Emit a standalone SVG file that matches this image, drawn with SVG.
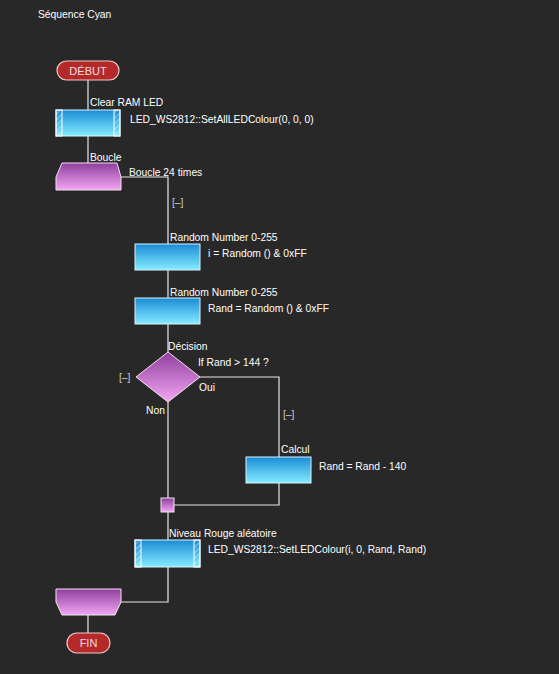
<svg xmlns="http://www.w3.org/2000/svg" width="559" height="674" viewBox="0 0 559 674">
<defs>
<linearGradient id="gBlue" x1="0" y1="0" x2="0" y2="1">
<stop offset="0" stop-color="#1a8cd6"/>
<stop offset="1" stop-color="#86ecff"/>
</linearGradient>
<linearGradient id="gPurple" x1="0" y1="0" x2="0" y2="1">
<stop offset="0" stop-color="#8e3f9e"/>
<stop offset="1" stop-color="#f2a6f2"/>
</linearGradient>
<pattern id="hatch" width="4" height="4" patternUnits="userSpaceOnUse" patternTransform="rotate(45)">
<rect width="4" height="4" fill="none"/>
<line x1="0" y1="0" x2="0" y2="4" stroke="#ffffff" stroke-width="1" stroke-opacity="0.8"/>
</pattern>
</defs>
<style>
.bg{fill:#282828}
.t{font-family:"Liberation Sans",Arial,sans-serif;font-size:10.3px;fill:#ffffff}
.g{font-family:"Liberation Sans",Arial,sans-serif;font-size:10.3px;fill:#cccccc}
.w{font-family:"Liberation Sans",Arial,sans-serif;font-size:11px;fill:#f4dede}
.line{stroke:#e6e6e6;stroke-width:1.2;fill:none}
.box{fill:url(#gBlue);stroke:#d8f4ff;stroke-width:1}
.loop{fill:url(#gPurple);stroke:#f4e0f4;stroke-width:1}
.term{fill:#b42a2a;stroke:#f0c8c8;stroke-width:1.2}
.side{fill:url(#hatch);stroke:#ffffff;stroke-width:1}
</style>
<rect class="bg" x="0" y="0" width="559" height="674"/>
<text class="t" x="38" y="18">Séquence Cyan</text>

<g id="connectors">
<line class="line" x1="88" y1="80" x2="88" y2="110"/>
<line class="line" x1="88" y1="136" x2="88" y2="163"/>
<polyline class="line" points="121,177 168,177 168,244"/>
<line class="line" x1="168" y1="270" x2="168" y2="298"/>
<line class="line" x1="168" y1="324" x2="168" y2="352"/>
<polyline class="line" points="199,377 279,377 279,457"/>
<line class="line" x1="168" y1="402" x2="168" y2="498"/>
<polyline class="line" points="279,483 279,505 174,505"/>
<line class="line" x1="168" y1="512" x2="168" y2="540"/>
<polyline class="line" points="168,567 168,602 121,602"/>
<line class="line" x1="88" y1="615" x2="88" y2="633"/>
</g>

<g id="start">
<rect class="term" x="57" y="61" width="62" height="19" rx="9.5"/>
<text class="w" x="88" y="75" text-anchor="middle">DÉBUT</text>
</g>

<g id="clearRam">
<text class="t" x="90" y="106">Clear RAM LED</text>
<rect class="box" x="56" y="110" width="64" height="26"/>
<rect class="side" x="56" y="110" width="6" height="26"/>
<rect class="side" x="114" y="110" width="6" height="26"/>
<text class="t" x="130" y="123">LED_WS2812::SetAllLEDColour(0, 0, 0)</text>
</g>

<g id="loopStart">
<text class="t" x="90" y="161">Boucle</text>
<polygon class="loop" points="62,163 117,163 121,177 121,190 56,190 56,177"/>
<text class="t" x="129" y="176">Boucle 24 times</text>
<text class="g" x="172" y="206">[–]</text>
</g>

<g id="random1">
<text class="t" x="170" y="241">Random Number 0-255</text>
<rect class="box" x="135" y="244" width="65" height="26"/>
<text class="t" x="208" y="257">i = Random () &amp; 0xFF</text>
</g>

<g id="random2">
<text class="t" x="170" y="296">Random Number 0-255</text>
<rect class="box" x="135" y="298" width="65" height="26"/>
<text class="t" x="208" y="312">Rand = Random () &amp; 0xFF</text>
</g>

<g id="decision">
<text class="t" x="168" y="350">Décision</text>
<polygon class="loop" points="168,352 200,377 168,402 136,377"/>
<text class="t" x="198" y="366">If  Rand &gt; 144 ?</text>
<text class="g" x="119" y="381">[–]</text>
<text class="t" x="199" y="391">Oui</text>
<text class="t" x="146" y="414">Non</text>
<text class="g" x="283" y="418">[–]</text>
</g>

<g id="calcul">
<text class="t" x="281" y="453">Calcul</text>
<rect class="box" x="246" y="457" width="65" height="26"/>
<text class="t" x="319" y="470">Rand = Rand - 140</text>
</g>

<g id="junction">
<rect class="loop" x="161" y="498" width="13" height="14"/>
</g>

<g id="setLed">
<text class="t" x="169" y="537">Niveau Rouge aléatoire</text>
<rect class="box" x="135" y="540" width="65" height="27"/>
<rect class="side" x="135" y="540" width="6" height="27"/>
<rect class="side" x="194" y="540" width="6" height="27"/>
<text class="t" x="208" y="553">LED_WS2812::SetLEDColour(i, 0, Rand, Rand)</text>
</g>

<g id="loopEnd">
<polygon class="loop" points="56,589 121,589 121,602 115,615 62,615 56,602"/>
</g>

<g id="end">
<rect class="term" x="67" y="633" width="43" height="20" rx="10"/>
<text class="w" x="88.5" y="647" text-anchor="middle">FIN</text>
</g>
</svg>
